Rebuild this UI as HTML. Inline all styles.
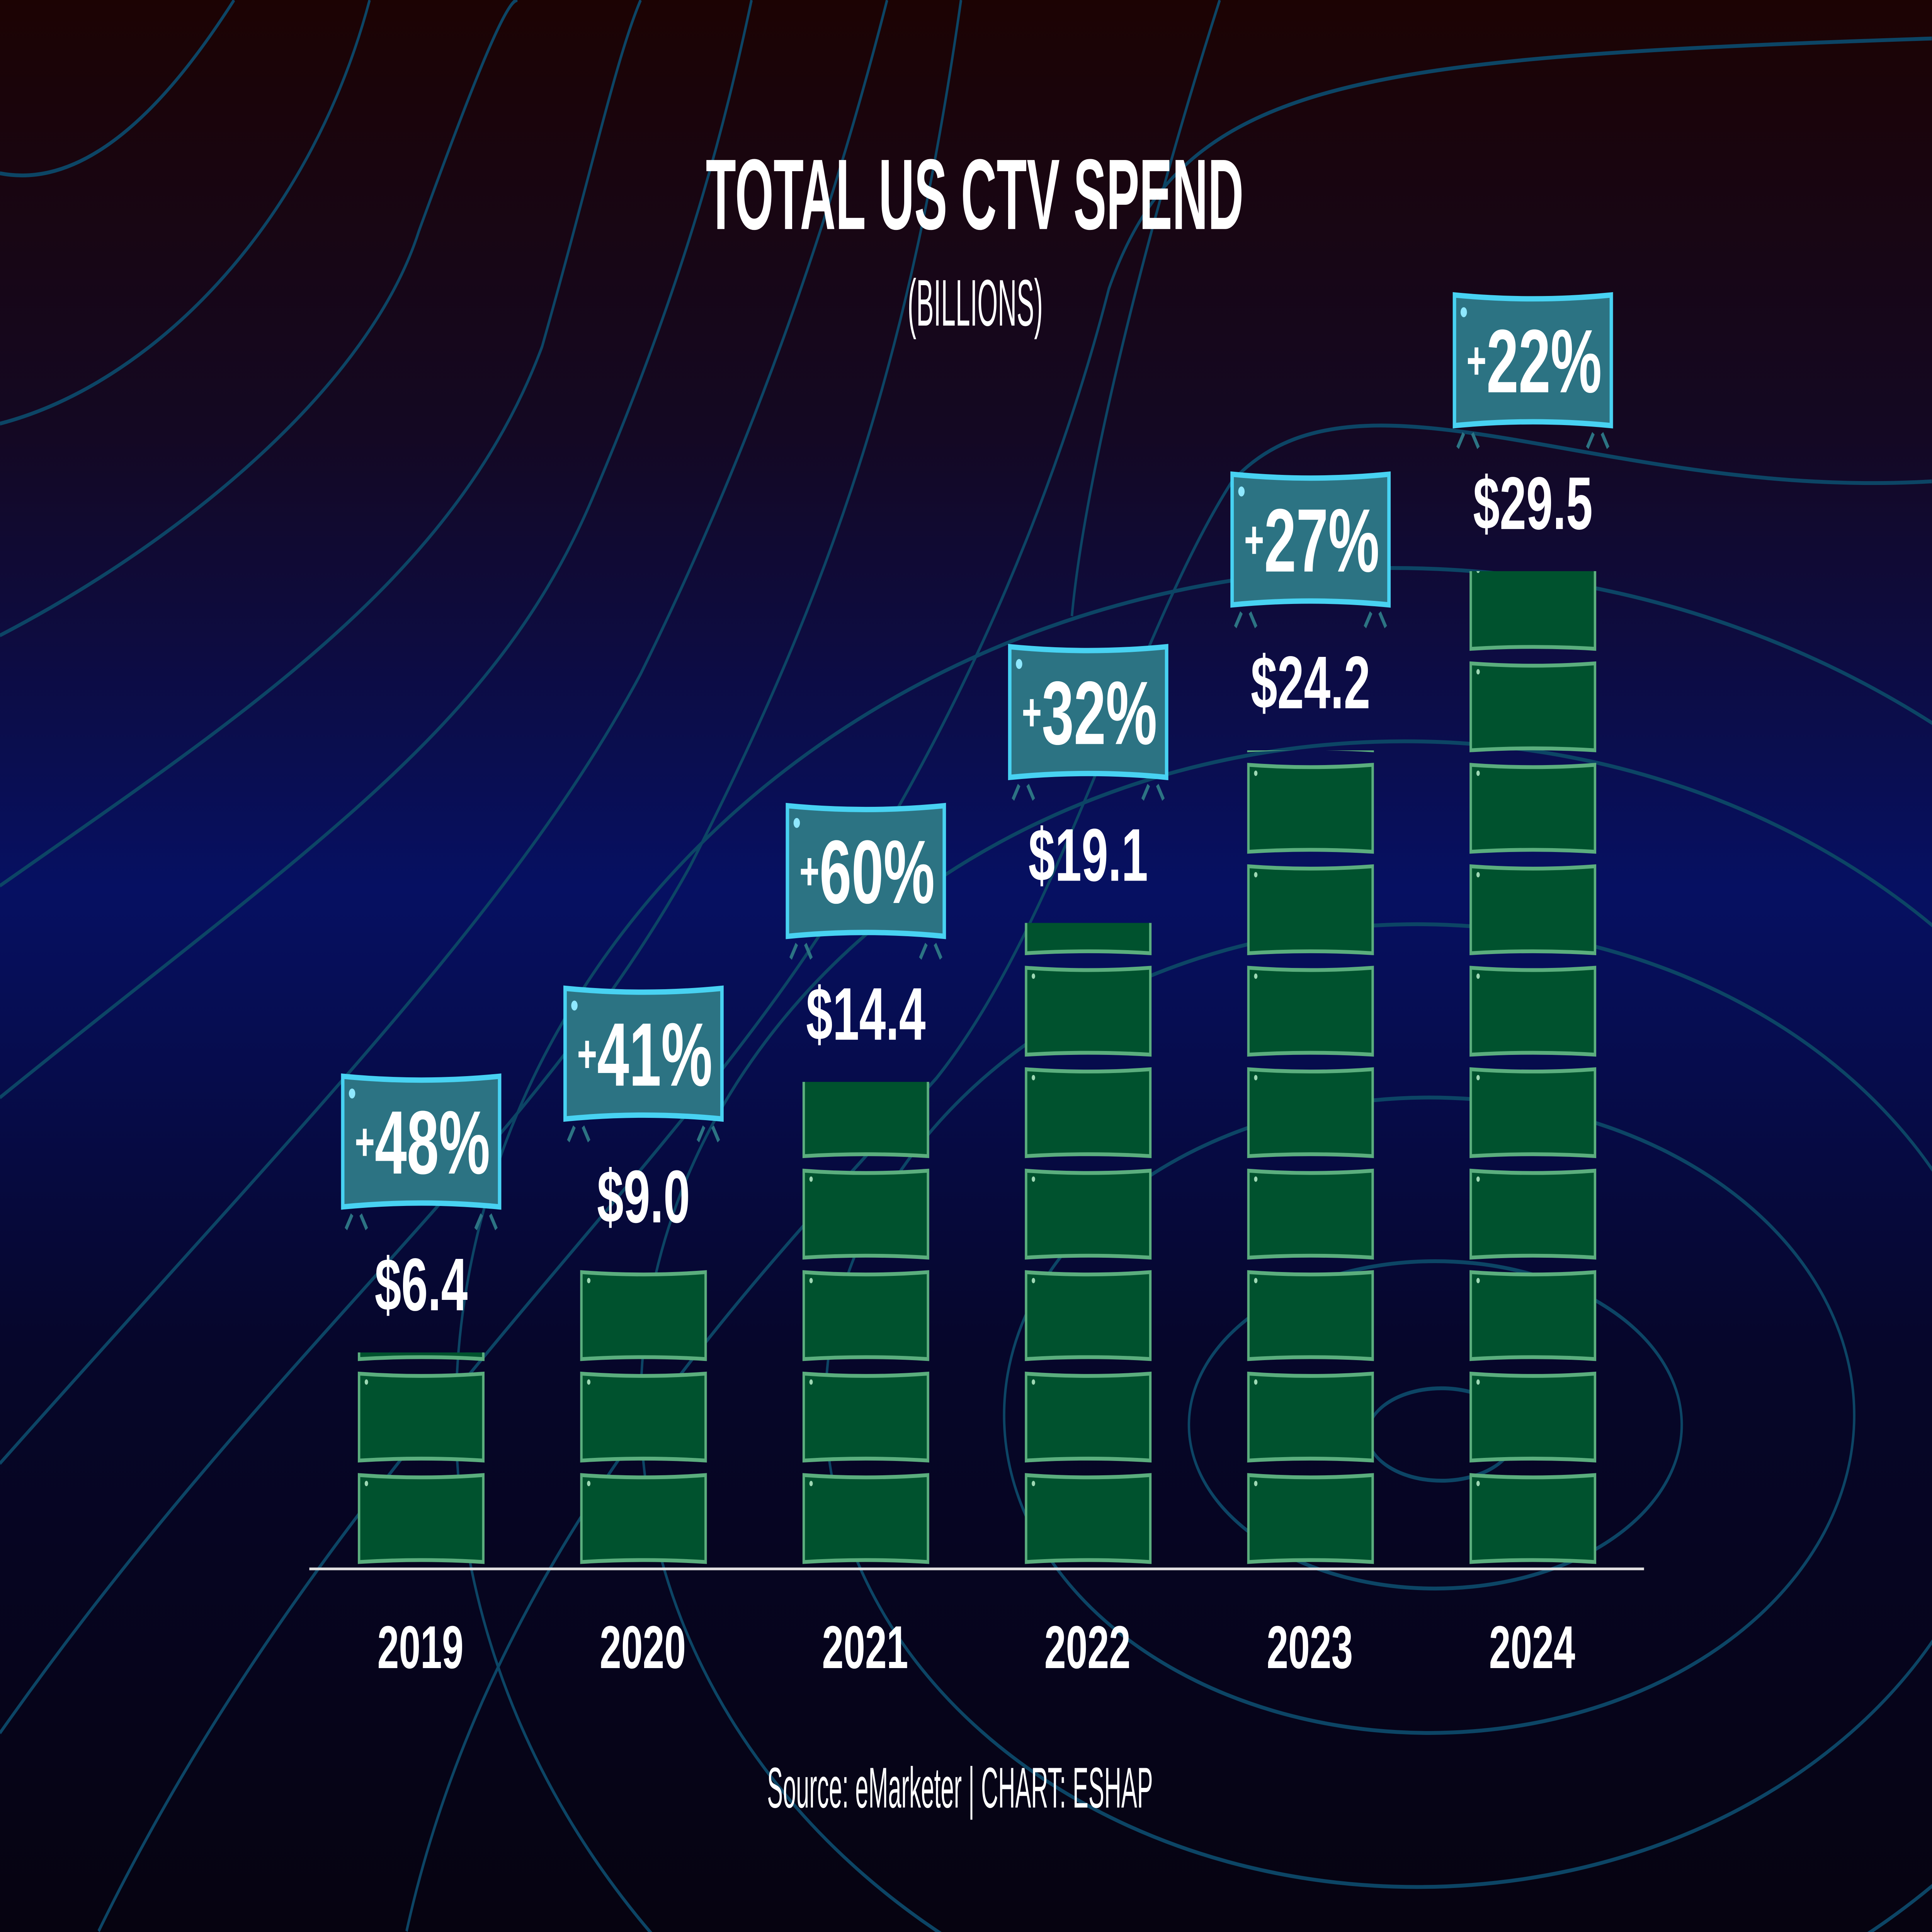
<!DOCTYPE html>
<html><head><meta charset="utf-8">
<style>
html,body{margin:0;padding:0;background:#07040f;width:100vw;height:100vh;overflow:hidden;}
svg{display:block;width:100vw;height:100vh;}
</style></head>
<body>
<svg id="chart" viewBox="0 0 7883 5044" preserveAspectRatio="none" xmlns="http://www.w3.org/2000/svg">
<defs>
<linearGradient id="bg" x1="0" y1="0" x2="0" y2="1">
<stop offset="0" stop-color="#1c0303"/>
<stop offset="0.22" stop-color="#140822"/>
<stop offset="0.46" stop-color="#061062"/>
<stop offset="0.7" stop-color="#06062a"/>
<stop offset="1" stop-color="#060310"/>
</linearGradient>
</defs>
<rect x="0" y="0" width="7883" height="5044" fill="url(#bg)"/>
<g fill="none" stroke="#0c4565" stroke-width="2" transform="scale(5.027)">
<ellipse cx="1170" cy="745" rx="60" ry="24"/>
<ellipse cx="1165" cy="740" rx="200" ry="85"/>
<ellipse cx="1160" cy="735" rx="345" ry="165"/>
<ellipse cx="1150" cy="730" rx="480" ry="250"/>
<ellipse cx="1140" cy="730" rx="620" ry="345"/>
<ellipse cx="1130" cy="735" rx="760" ry="440"/>
<path d="M0 90 C80 100 150 40 190 0"/>
<path d="M0 220 C120 200 250 120 300 0"/>
<path d="M0 330 C150 280 300 200 340 120 C380 50 410 0 420 0"/>
<path d="M0 460 C200 370 370 300 440 180 C480 90 500 30 520 0"/>
<path d="M0 570 C250 440 400 380 480 260 C560 140 590 60 610 0"/>
<path d="M0 760 C250 580 420 470 520 350 C620 220 680 100 720 0"/>
<path d="M0 900 C220 700 430 600 560 450 C680 300 740 180 780 0"/>
<path d="M80 1003 C250 780 500 640 650 500 C780 380 860 250 900 150 C960 40 1100 30 1568 20"/>
<path d="M330 1003 C400 800 620 660 760 560 C860 480 920 330 1000 250 C1100 180 1300 260 1568 250"/>
<path d="M990 0 C930 120 880 250 870 320"/>
</g>
<line x1="1262" y1="4096" x2="6708" y2="4096" stroke="#e0e0e0" stroke-width="7"/>
<text x="3977" y="598" text-anchor="middle" font-family="Liberation Sans Narrow, Liberation Sans, sans-serif" font-weight="bold" font-size="262" textLength="2194" lengthAdjust="spacingAndGlyphs" fill="#fff">TOTAL US CTV SPEND</text>
<text x="3979" y="850" text-anchor="middle" font-family="Liberation Sans Narrow, Liberation Sans, sans-serif" font-size="172" textLength="552" lengthAdjust="spacingAndGlyphs" fill="#fff">(BILLIONS)</text>
<text x="3917" y="4719" text-anchor="middle" font-family="Liberation Sans Narrow, Liberation Sans, sans-serif" font-size="150" textLength="1574" lengthAdjust="spacingAndGlyphs" fill="#fff">Source: eMarketer | CHART: ESHAP</text>
<g id="marks"></g>
</svg>
<script>
const years = ["2019","2020","2021","2022","2023","2024"];
const spend = [6.4, 9.0, 14.4, 19.1, 24.2, 29.5];
const valueLabels = ["$6.4","$9.0","$14.4","$19.1","$24.2","$29.5"];
const growthLabels = ["48%","41%","60%","32%","27%","22%"];

const NS = "http://www.w3.org/2000/svg";
const base = 4096, pxPerB = 88.3, x0 = 1460, pitch = 907.2, bw = 517;
const tileB = 3;
function yScale(v){ return base - v * pxPerB; }
function xScale(i){ return x0 + i * pitch; }
const g = document.getElementById('marks');
const svg = document.getElementById('chart');
const defs = svg.querySelector('defs');
function mk(tag, attrs){ const e = document.createElementNS(NS, tag); for (const k in attrs) e.setAttribute(k, attrs[k]); return e; }

spend.forEach((v, i) => {
  const x = xScale(i), cx = x + bw/2, top = yScale(v);
  const cp = mk('clipPath', {id: 'clip' + i});
  cp.appendChild(mk('rect', {x: x - 20, y: top, width: bw + 40, height: base - top + 2}));
  defs.appendChild(cp);
  const bar = mk('g', {'clip-path': 'url(#clip' + i + ')'});
  
  
  const tilePx = tileB * pxPerB;
  const n = Math.ceil(v / tileB);
  for (let k = 0; k < n; k++) {
    const tb = base - k * tilePx;
    const tt = tb - tilePx + 20;
    bar.appendChild(mk('path', {d: `M${x+40} ${tb-20} l25 -18 M${x+90} ${tb-20} l-25 -18 M${x+bw-40} ${tb-20} l-25 -18 M${x+bw-90} ${tb-20} l25 -18`, stroke: '#0b5a34', 'stroke-width': 10}));
    bar.appendChild(mk('path', {d: `M${x+5} ${tt} Q${cx} ${tt+12} ${x+bw-5} ${tt} L${x+bw-5} ${tb-18} Q${cx} ${tb-28} ${x+5} ${tb-18} Z`, fill: '#00522e', stroke: '#5bae7e', 'stroke-width': 10}));
    bar.appendChild(mk('circle', {cx: x + 35, cy: tt + 22, r: 7, fill: '#9ed8b4'}));
  }
  g.appendChild(bar);

  const vl = mk('text', {x: cx, y: top - 110, 'text-anchor': 'middle', 'font-family': 'Liberation Sans, sans-serif', 'font-weight': 'bold', 'font-size': 195, fill: '#fff'});
  
  
  vl.textContent = valueLabels[i];
  g.appendChild(vl);

  const bb = top - 380, bt = bb - 341, bl = cx - 327, br = cx + 327;
  const badge = mk('g', {});
  
  
  badge.appendChild(mk('path', {d: `M${bl+45} ${bb+20} l-25 38 M${bl+80} ${bb+20} l25 38 M${br-45} ${bb+20} l25 38 M${br-80} ${bb+20} l-25 38`, stroke: '#2c7383', 'stroke-width': 12}));
  badge.appendChild(mk('path', {d: `M${bl+7} ${bt} Q${cx} ${bt+20} ${br-7} ${bt} L${br-7} ${bb} Q${cx} ${bb-20} ${bl+7} ${bb} Z`, fill: '#2c7383', stroke: '#48d2f2', 'stroke-width': 14}));
  badge.appendChild(mk('circle', {cx: bl + 45, cy: bt + 45, r: 13, fill: '#8fe8ff'}));
  const gt = mk('text', {x: cx + 5, y: bb - 87, 'text-anchor': 'middle', 'font-family': 'Liberation Sans, sans-serif', 'font-weight': 'bold', 'font-size': 235, fill: '#fff'});
  const plus = mk('tspan', {'font-size': 140, dy: -35});
  plus.textContent = '+';
  const num = mk('tspan', {dy: 35});
  num.textContent = growthLabels[i];
  gt.appendChild(plus); gt.appendChild(num);
  badge.appendChild(gt);
  g.appendChild(badge);

  const yl = mk('text', {x: cx - 3, y: 4355, 'text-anchor': 'middle', 'font-family': 'Liberation Sans, sans-serif', 'font-weight': 'bold', 'font-size': 158, fill: '#fff'});
  
  
  yl.textContent = years[i];
  g.appendChild(yl);
});
</script>
</body></html>
